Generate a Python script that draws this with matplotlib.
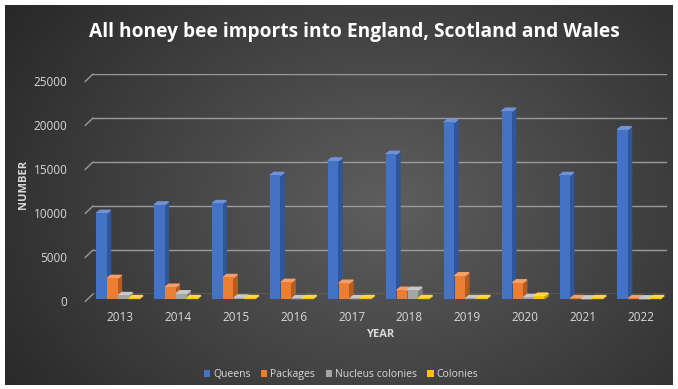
import numpy as np
import matplotlib.pyplot as plt
import matplotlib.transforms as mtransforms
from matplotlib.patches import Polygon

# Данные (оценка по картинке)
years = ['2013', '2014', '2015', '2016', '2017', '2018', '2019', '2020', '2021', '2022']
queens = [9750, 10700, 10850, 14050, 15700, 16450, 20050, 21350, 14050, 19250]
packages = [2350, 1350, 2450, 1900, 1800, 1000, 2650, 1850, 60, 60]
nucleus = [400, 600, 120, 50, 50, 1000, 60, 180, 30, 30]
colonies = [60, 60, 60, 60, 60, 60, 60, 330, 60, 60]

series = [('Queens', queens, '#4472c4', '#2f559b', '#6f93d6'),
          ('Packages', packages, '#ed7d31', '#b85c1e', '#f4a06a'),
          ('Nucleus colonies', nucleus, '#a5a5a5', '#7c7c7c', '#c8c8c8'),
          ('Colonies', colonies, '#ffc000', '#c49200', '#ffd54d')]

W, H = 678, 389
fig = plt.figure(figsize=(W / 100, H / 100), dpi=100)
fig.patch.set_facecolor('white')

# Фон с радиальным градиентом
bg = fig.add_axes([5 / W, 4 / H, 668 / W, 380 / H])
yy, xx = np.mgrid[0:200, 0:350]
r = np.clip(np.sqrt(((xx - 200) / 250.0) ** 2 + ((yy - 105) / 190.0) ** 2), 0, 1)
g = 0.37 - 0.22 * r
bg.imshow(np.dstack([g, g, g]), aspect='auto', extent=[0, 1, 0, 1], interpolation='bicubic')
bg.axis('off')

ax = fig.add_axes([91 / W, 1 - 294 / H, 579 / W, 220 / H])
ax.patch.set_alpha(0)
x = np.arange(len(years))
bw = 0.18
dx, dy = 0.065, 330
floor = -560  # передняя плоскость чуть ниже задней стенки

# Сетка с наклоном слева
for v in range(0, 25001, 5000):
    ax.plot([-0.465, 9.43], [v, v], color='#9a9a9a', lw=1, zorder=1)
    ax.plot([-0.6, -0.465], [v - 850, v], color='#9a9a9a', lw=1, zorder=1, clip_on=False)

offsets = [-1.6, -0.55, 0.5, 1.5]
for (name, vals, col, dark, light), off in zip(series, offsets):
    xs = x + off * bw - 0.03
    ax.bar(xs, vals, width=bw, bottom=floor, color=col, label=name, zorder=3, clip_on=False)
    for xi, v in zip(xs, vals):
        right = xi + bw / 2
        top = v + floor
        ax.add_patch(Polygon([(right, floor), (right + dx, floor + dy), (right + dx, top + dy), (right, top)],
                             closed=True, color=dark, zorder=2.5, clip_on=False))
        left = xi - bw / 2
        ax.add_patch(Polygon([(left, top), (left + dx, top + dy), (right + dx, top + dy), (right, top)],
                             closed=True, color=light, zorder=2.5, clip_on=False))

ax.set_xlim(-0.5, 9.5)
ax.set_ylim(0, 25000)
ax.set_xticks(x)
ax.set_xticklabels(years)
ax.set_yticks(range(0, 25001, 5000))
for s in ax.spines.values():
    s.set_visible(False)
ax.tick_params(length=0, colors='#d9d9d9', labelsize=8.5)
ax.tick_params(axis='y', pad=17)
ax.tick_params(axis='x', pad=12)
shift = mtransforms.ScaledTranslation(0, -7 / 100, fig.dpi_scale_trans)
for lab in ax.get_yticklabels():
    lab.set_transform(lab.get_transform() + shift)
for lab in ax.get_xticklabels() + ax.get_yticklabels():
    lab.set_fontfamily('Open Sans')
ax.set_xlabel('YEAR', color='#d9d9d9', fontsize=8, fontweight='bold', family='Open Sans', labelpad=4)
ax.set_ylabel('NUMBER', color='#d9d9d9', fontsize=8, fontweight='bold', family='Open Sans', labelpad=3)

leg = ax.legend(loc='upper center', bbox_to_anchor=(0.432, -0.30), ncol=4, frameon=False,
                handlelength=0.6, handleheight=0.6, handletextpad=0.3,
                columnspacing=1.0, prop={'family': 'Open Sans', 'size': 7.5})
for t in leg.get_texts():
    t.set_color('#d9d9d9')

fig.text(0.523, 1 - 32 / H, 'All honey bee imports into England, Scotland and Wales',
         ha='center', va='center', color='white', fontsize=13.8, fontweight='bold',
         family='Open Sans')

fig.savefig('out.png', dpi=100)
